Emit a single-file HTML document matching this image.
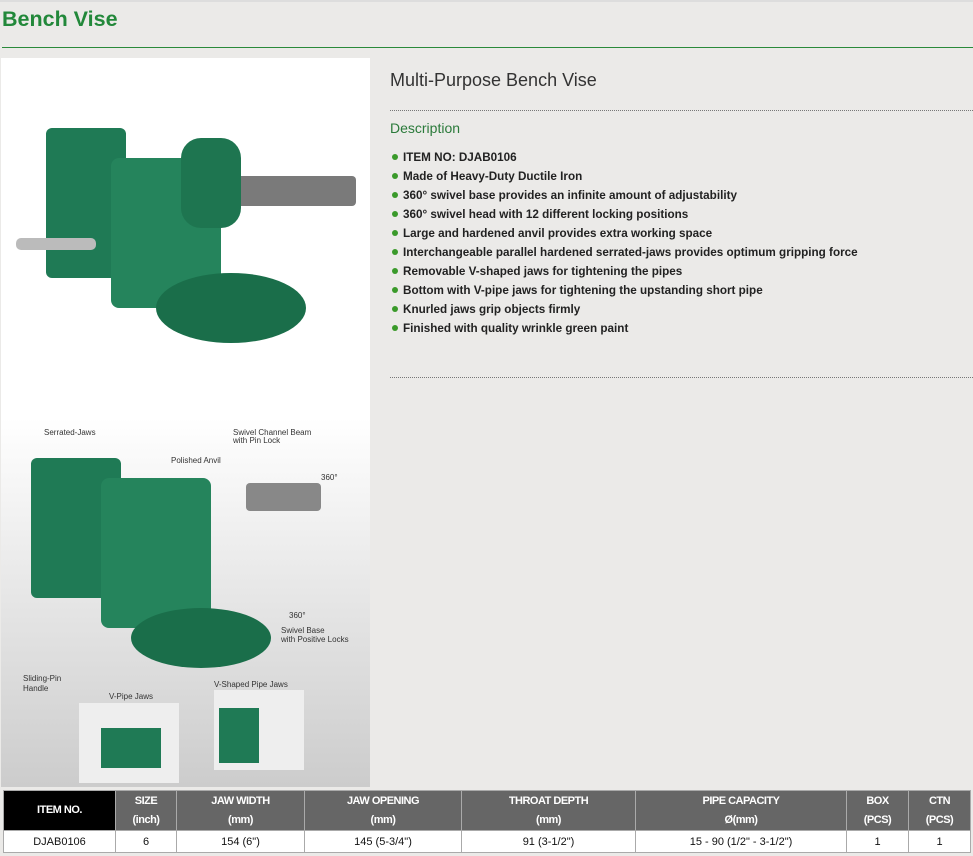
<!DOCTYPE html>
<html><head><meta charset="utf-8"><style>
body{margin:0;width:973px;height:856px;background:#ebeae8;font-family:"Liberation Sans",Arial,sans-serif;position:relative;overflow:hidden}
.a{position:absolute}
h1{position:absolute;left:2px;top:7px;margin:0;font-size:21.5px;color:#22883a;font-weight:bold}
ul{list-style:none;margin:0;padding:0}
li{font-size:11.7px;font-weight:bold;color:#222;height:19px;line-height:19px}
li:before{content:"";display:inline-block;width:6px;height:6px;border-radius:50%;background:#3a9a2a;margin:0 5px 1px 0}
table{border-collapse:collapse;position:absolute;left:3px;top:790px;width:968px}
td{border:1px solid #aaa;text-align:center;font-size:11px;padding:0}
.hd td{background:#666;color:#fff;height:39px;line-height:19px;font-weight:bold;letter-spacing:-0.5px}
.hd td.k{background:#000}
.dr td{background:#fff;height:21px;color:#111}
</style></head><body>
<div class="a" style="left:0;top:0;width:973px;height:2px;background:#ddd"></div>
<h1>Bench Vise</h1>
<div class="a" style="left:2px;top:47px;width:971px;height:1px;background:#2a8a3a"></div>
<div class="a" style="left:1px;top:58px;width:369px;height:360px;background:#fff">
<svg width="369" height="360">
<rect x="45" y="70" width="80" height="150" fill="#1f7a55" rx="6"/>
<rect x="110" y="100" width="110" height="150" fill="#25845c" rx="8"/>
<rect x="215" y="118" width="140" height="30" fill="#7a7a7a" rx="4"/>
<rect x="180" y="80" width="60" height="90" fill="#1e7550" rx="20"/>
<ellipse cx="230" cy="250" rx="75" ry="35" fill="#1a6e4a"/>
<rect x="15" y="180" width="80" height="12" fill="#bbb" rx="5"/>
</svg></div>
<div class="a" style="left:1px;top:418px;width:369px;height:369px;background:linear-gradient(#fff,#ccc)">
<svg width="369" height="369" font-family="Liberation Sans" font-size="8" fill="#333">
<rect x="30" y="40" width="90" height="140" fill="#1f7a55" rx="6"/>
<rect x="100" y="60" width="110" height="150" fill="#25845c" rx="8"/>
<rect x="245" y="65" width="75" height="28" fill="#888" rx="4"/>
<ellipse cx="200" cy="220" rx="70" ry="30" fill="#1a6e4a"/>
<rect x="78" y="285" width="100" height="80" fill="#eee"/>
<rect x="213" y="272" width="90" height="80" fill="#eee"/>
<rect x="100" y="310" width="60" height="40" fill="#1f7a55"/>
<rect x="218" y="290" width="40" height="55" fill="#1f7a55"/>
<text x="43" y="17">Serrated-Jaws</text><text x="232" y="17">Swivel Channel Beam</text><text x="232" y="25">with Pin Lock</text>
<text x="170" y="45">Polished Anvil</text><text x="320" y="62">360°</text>
<text x="288" y="200">360°</text><text x="280" y="215">Swivel Base</text><text x="280" y="224">with Positive Locks</text>
<text x="22" y="263">Sliding-Pin</text><text x="22" y="273">Handle</text>
<text x="108" y="281">V-Pipe Jaws</text><text x="213" y="269">V-Shaped Pipe Jaws</text>
</svg></div>
<div class="a" style="left:390px;top:70px;font-size:18px;color:#333">Multi-Purpose Bench Vise</div>
<div class="a" style="left:390px;top:110px;width:583px;border-top:1px dotted #777"></div>
<div class="a" style="left:390px;top:120px;font-size:14px;color:#2a7a3a">Description</div>
<ul class="a" style="left:392px;top:148px">
<li>ITEM NO: DJAB0106</li><li>Made of Heavy-Duty Ductile Iron</li><li>360° swivel base provides an infinite amount of adjustability</li><li>360° swivel head with 12 different locking positions</li><li>Large and hardened anvil provides extra working space</li><li>Interchangeable parallel hardened serrated-jaws provides optimum gripping force</li><li>Removable V-shaped jaws for tightening the pipes</li><li>Bottom with V-pipe jaws for tightening the upstanding short pipe</li><li>Knurled jaws grip objects firmly</li><li>Finished with quality wrinkle green paint</li>
</ul>
<div class="a" style="left:390px;top:377px;width:583px;border-top:1px dotted #777"></div>
<table>
<tr class="hd"><td class="k" style="width:111px">ITEM NO.</td><td style="width:60px">SIZE<br>(inch)</td><td style="width:127px">JAW WIDTH<br>(mm)</td><td style="width:156px">JAW OPENING<br>(mm)</td><td style="width:173px">THROAT DEPTH<br>(mm)</td><td style="width:210px">PIPE CAPACITY<br>Ø(mm)</td><td style="width:61px">BOX<br>(PCS)</td><td>CTN<br>(PCS)</td></tr>
<tr class="dr"><td>DJAB0106</td><td>6</td><td>154 (6")</td><td>145 (5-3/4")</td><td>91 (3-1/2")</td><td>15 - 90 (1/2" - 3-1/2")</td><td>1</td><td>1</td></tr>
</table>
</body></html>
